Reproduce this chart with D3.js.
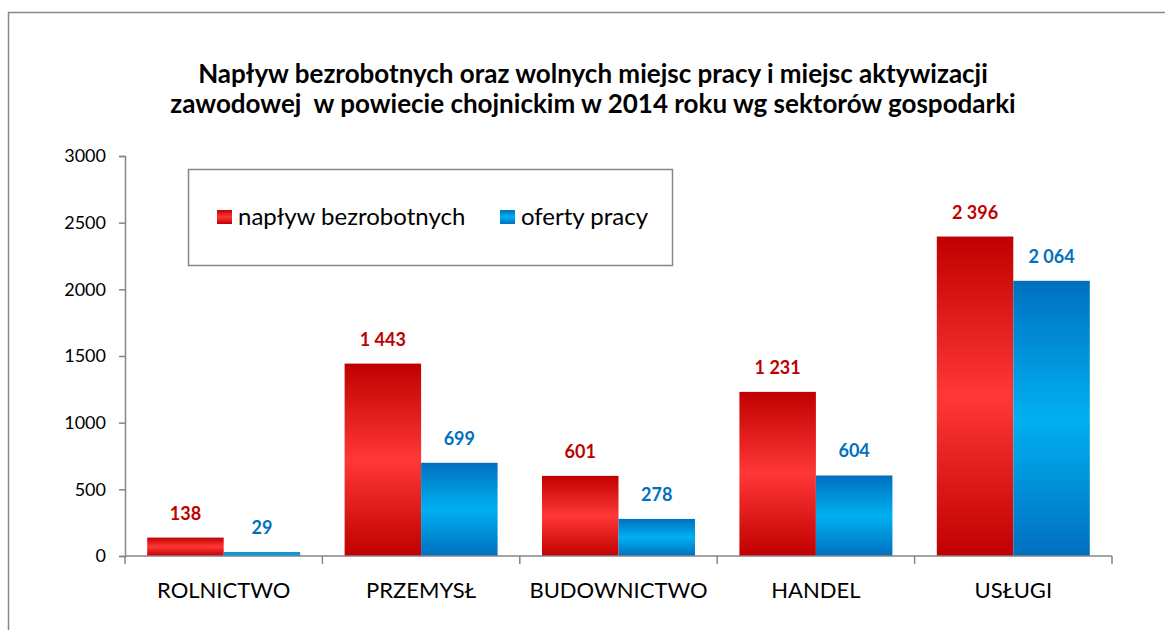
<!DOCTYPE html>
<html>
<head>
<meta charset="utf-8" />
<script src="https://cdn.jsdelivr.net/npm/d3@7"></script>
<style>
  body { margin: 0; background: #fff; }
  svg { font-family: Lato, "Open Sans", sans-serif; }
</style>
</head>
<body>
<script>
  // dane z wykresu
  var sectors = ["ROLNICTWO", "PRZEMYSŁ", "BUDOWNICTWO", "HANDEL", "USŁUGI"];
  var seriesNames = ["napływ bezrobotnych", "oferty pracy"];
  var inflow = [138, 1443, 601, 1231, 2396];
  var offers = [29, 699, 278, 604, 2064];
  var yTicks = [0, 500, 1000, 1500, 2000, 2500, 3000];
  var titleLines = [
    "Napływ bezrobotnych oraz wolnych miejsc pracy i miejsc aktywizacji",
    "zawodowej  w powiecie chojnickim w 2014 roku wg sektorów gospodarki"
  ];

  var w = 1165, h = 630;
  var plotLeft = 125, plotRight = 1112, plotTop = 156, plotBottom = 556;

  var svg = d3.select("body").append("svg")
      .attr("width", w)
      .attr("height", h);

  // gradienty jak w Excelu: ciemne brzegi, jasny srodek
  var defs = svg.append("defs");
  function makeGrad(id, edge, mid) {
    var g = defs.append("linearGradient").attr("id", id)
        .attr("x1", 0).attr("y1", 0).attr("x2", 0).attr("y2", 1);
    g.append("stop").attr("offset", "0%").attr("stop-color", edge);
    g.append("stop").attr("offset", "50%").attr("stop-color", mid);
    g.append("stop").attr("offset", "100%").attr("stop-color", edge);
  }
  makeGrad("gRed", "#C00000", "#FF3737");
  makeGrad("gBlue", "#0070C0", "#00B0F0");
  var fills = ["url(#gRed)", "url(#gBlue)"];
  var labelColors = ["#C00000", "#0070C0"];

  // ramka wykresu
  svg.append("rect")
     .attr("x", 8.5).attr("y", 12.5)
     .attr("width", 1200).attr("height", 700)
     .attr("fill", "none")
     .attr("stroke", "#868686")
     .attr("stroke-width", 1.5);

  // tytul
  svg.append("text")
     .attr("text-anchor", "middle")
     .attr("font-weight", "bold")
     .attr("font-size", 26)
     .style("white-space", "pre")
     .selectAll("tspan")
     .data(titleLines)
     .enter().append("tspan")
     .attr("x", 593)
     .attr("y", function(d, i) { return 83 + i * 30; })
     .text(function(d) { return d; });

  var x0 = d3.scaleBand().domain(sectors).range([plotLeft, plotRight])
      .paddingInner(0.225).paddingOuter(0.1125);
  var x1 = d3.scaleBand().domain([0, 1]).range([0, x0.bandwidth()]);
  var y = d3.scaleLinear().domain([0, 3000]).range([plotBottom, plotTop]);

  var fmt = d3.formatLocale({ decimal: ",", thousands: "\u00a0", grouping: [3], currency: ["", ""] }).format(",d");

  var rows = sectors.map(function(s, i) {
    return { sector: s, vals: [inflow[i], offers[i]] };
  });

  var groups = svg.selectAll(".grp")
      .data(rows)
      .enter().append("g")
      .attr("class", "grp")
      .attr("transform", function(d) { return "translate(" + x0(d.sector) + ",0)"; });

  groups.selectAll("rect")
      .data(function(d) { return d.vals; })
      .enter().append("rect")
      .attr("x", function(d, i) { return x1(i); })
      .attr("y", function(d) { return y(d); })
      .attr("width", x1.bandwidth())
      .attr("height", function(d) { return plotBottom - y(d); })
      .attr("fill", function(d, i) { return fills[i]; });

  groups.selectAll("text.val")
      .data(function(d) { return d.vals; })
      .enter().append("text")
      .attr("class", "val")
      .attr("x", function(d, i) { return x1(i) + x1.bandwidth() / 2; })
      .attr("y", function(d) { return y(d) - 18; })
      .attr("text-anchor", "middle")
      .attr("font-weight", "bold")
      .attr("font-size", 18)
      .attr("fill", function(d, i) { return labelColors[i]; })
      .text(function(d) { return fmt(d); });

  // os Y
  var yAxis = svg.append("g")
      .attr("transform", "translate(" + plotLeft + ",0)")
      .call(d3.axisLeft(y).tickValues(yTicks).tickSize(6).tickPadding(13).tickFormat(d3.format("d")));
  yAxis.selectAll("text").attr("font-size", 18).attr("fill", "#000").attr("font-family", "Lato, sans-serif");
  yAxis.select(".domain").attr("stroke", "#868686").attr("stroke-width", 1.5);
  yAxis.selectAll(".tick line").attr("stroke", "#868686").attr("stroke-width", 1.5);

  // os X z kreskami miedzy kategoriami
  var xAxis = svg.append("g").attr("transform", "translate(0," + plotBottom + ")");
  xAxis.append("line")
      .attr("x1", plotLeft).attr("x2", plotRight)
      .attr("stroke", "#868686").attr("stroke-width", 1.5);
  var step = x0.step();
  xAxis.selectAll("line.tk")
      .data(d3.range(sectors.length + 1))
      .enter().append("line")
      .attr("class", "tk")
      .attr("x1", function(i) { return plotLeft + i * step; })
      .attr("x2", function(i) { return plotLeft + i * step; })
      .attr("y1", 0).attr("y2", 8)
      .attr("stroke", "#868686").attr("stroke-width", 1.5);
  xAxis.selectAll("text")
      .data(sectors)
      .enter().append("text")
      .attr("x", function(d) { return x0(d) + x0.bandwidth() / 2; })
      .attr("y", 42)
      .attr("text-anchor", "middle")
      .attr("font-size", 22)
      .text(function(d) { return d; });

  // legenda
  var leg = svg.append("g");
  leg.append("rect")
     .attr("x", 188.5).attr("y", 169.5)
     .attr("width", 484).attr("height", 96)
     .attr("fill", "#fff")
     .attr("stroke", "#868686")
     .attr("stroke-width", 1.5);
  var legX = [217, 500];
  seriesNames.forEach(function(name, i) {
    leg.append("rect")
       .attr("x", legX[i]).attr("y", 210)
       .attr("width", 15).attr("height", 14)
       .attr("fill", fills[i]);
    leg.append("text")
       .attr("x", legX[i] + 21).attr("y", 225)
       .attr("font-size", 24)
       .text(name);
  });
</script>
</body>
</html>
